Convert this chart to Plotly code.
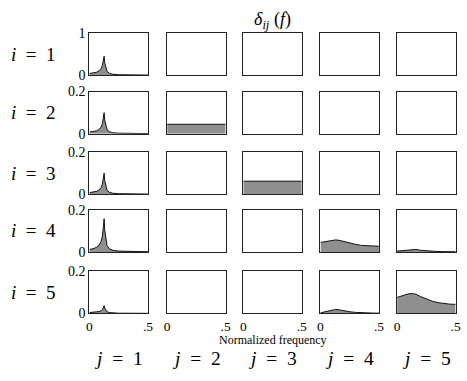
import plotly.graph_objects as go

W, H = 467, 381

# frequency grids
f_peak = [0, 0.03, 0.06, 0.08, 0.10, 0.11, 0.12, 0.125, 0.13, 0.14, 0.15, 0.17, 0.20, 0.25, 0.30, 0.40, 0.50]
f_smooth = [0, 0.05, 0.10, 0.13, 0.16, 0.20, 0.25, 0.30, 0.35, 0.40, 0.45, 0.50]
f_flat = [0, 0.5]

# curves (row i, col j)
d11 = [0.04, 0.05, 0.07, 0.10, 0.16, 0.23, 0.36, 0.45, 0.30, 0.15, 0.09, 0.045, 0.022, 0.011, 0.007, 0.004, 0.003]
d21 = [0.008, 0.010, 0.014, 0.020, 0.032, 0.048, 0.080, 0.100, 0.066, 0.033, 0.019, 0.010, 0.005, 0.003, 0.002, 0.001, 0.001]
d31 = [0.008, 0.010, 0.014, 0.020, 0.032, 0.048, 0.080, 0.100, 0.066, 0.033, 0.019, 0.010, 0.005, 0.003, 0.002, 0.001, 0.001]
d41 = [0.012, 0.015, 0.022, 0.031, 0.050, 0.075, 0.125, 0.157, 0.105, 0.052, 0.030, 0.015, 0.008, 0.004, 0.003, 0.002, 0.001]
d51 = [0.004, 0.005, 0.007, 0.009, 0.013, 0.018, 0.030, 0.037, 0.026, 0.013, 0.008, 0.004, 0.002, 0.001, 0.001, 0.0005, 0.0005]
d22 = [0.045, 0.045]
d33 = [0.062, 0.062]
d44 = [0.045, 0.050, 0.055, 0.057, 0.055, 0.049, 0.042, 0.036, 0.031, 0.029, 0.028, 0.027]
d54 = [0.003, 0.008, 0.016, 0.019, 0.017, 0.012, 0.008, 0.005, 0.003, 0.002, 0.0015, 0.0015]
d45 = [0.004, 0.007, 0.011, 0.013, 0.012, 0.008, 0.005, 0.003, 0.002, 0.0015, 0.001, 0.001]
d55 = [0.076, 0.085, 0.093, 0.094, 0.091, 0.080, 0.068, 0.058, 0.051, 0.047, 0.044, 0.043]

curves = {
    (1, 1): (f_peak, d11), (2, 1): (f_peak, d21), (3, 1): (f_peak, d31),
    (4, 1): (f_peak, d41), (5, 1): (f_peak, d51),
    (2, 2): (f_flat, d22), (3, 3): (f_flat, d33),
    (4, 4): (f_smooth, d44), (5, 4): (f_smooth, d54),
    (4, 5): (f_smooth, d45), (5, 5): (f_smooth, d55),
}

row_ymax = [1, 0.2, 0.2, 0.2, 0.2]
row_ytext = [["0", "1"], ["0", "0.2"], ["0", "0.2"], ["0", "0.2"], ["0", "0.2"]]
x_ticktext = ["0", ".5"]
row_labels = ["<i>i</i>&nbsp; = &nbsp;1", "<i>i</i>&nbsp; = &nbsp;2", "<i>i</i>&nbsp; = &nbsp;3",
              "<i>i</i>&nbsp; = &nbsp;4", "<i>i</i>&nbsp; = &nbsp;5"]
col_labels = ["<i>j</i>&nbsp; = &nbsp;1", "<i>j</i>&nbsp; = &nbsp;2", "<i>j</i>&nbsp; = &nbsp;3",
              "<i>j</i>&nbsp; = &nbsp;4", "<i>j</i>&nbsp; = &nbsp;5"]

# layout geometry (pixels)
col_left = [88, 167, 244.5, 323, 401]
box_w = 59.5
row_top = [27, 88, 151, 211, 275]
box_h = 44

FONT = "Liberation Serif, Tinos, Times New Roman, DejaVu Serif, serif"
FILL = "#8f8f8f"

fig = go.Figure()
layout = dict(
    width=W, height=H, margin=dict(l=0, r=0, t=0, b=0),
    paper_bgcolor="white", plot_bgcolor="white", showlegend=False,
    font=dict(family=FONT, color="black", size=12),
)

annotations = []
for r in range(5):
    for c in range(5):
        k = r * 5 + c + 1
        sfx = str(k) if k > 1 else ""
        xd = [col_left[c] / W, (col_left[c] + box_w) / W]
        yd = [1 - (row_top[r] + box_h) / H, 1 - row_top[r] / H]
        layout["xaxis" + sfx] = dict(
            domain=xd, range=[0, 0.5], anchor="y" + sfx,
            showline=True, mirror=True, linecolor="#222", linewidth=1.3,
            showgrid=False, zeroline=False, ticks="",
            tickvals=[0, 0.5], ticktext=x_ticktext, showticklabels=(r == 4),
            tickfont=dict(size=13.5, family=FONT, color="black"),
        )
        layout["yaxis" + sfx] = dict(
            domain=yd, range=[0, row_ymax[r]], anchor="x" + sfx,
            showline=True, mirror=True, linecolor="#222", linewidth=1.3,
            showgrid=False, zeroline=False, ticks="",
            tickvals=[0, row_ymax[r]], ticktext=row_ytext[r], showticklabels=(c == 0),
            tickfont=dict(size=14, family=FONT, color="black"),
        )
        if (r + 1, c + 1) in curves:
            fx, fy = curves[(r + 1, c + 1)]
            fig.add_trace(go.Scatter(
                x=fx, y=fy, mode="lines", fill="tozeroy", fillcolor=FILL,
                line=dict(color="#111", width=1), hoverinfo="skip",
                xaxis="x" + sfx, yaxis="y" + sfx,
            ))
        else:
            fig.add_trace(go.Scatter(
                x=[None], y=[None], mode="lines", hoverinfo="skip",
                xaxis="x" + sfx, yaxis="y" + sfx,
            ))

for r in range(5):
    yc = 1 - (row_top[r] + box_h / 2) / H
    annotations.append(dict(x=31 / W, y=yc, xref="paper", yref="paper", text=row_labels[r],
                            showarrow=False, font=dict(size=19, family=FONT), xanchor="center", yanchor="middle"))
for c in range(5):
    xc = (col_left[c] + box_w / 2) / W
    annotations.append(dict(x=xc, y=1 - 366 / H, xref="paper", yref="paper", text=col_labels[c],
                            showarrow=False, font=dict(size=19.5, family=FONT), xanchor="center", yanchor="middle"))

annotations.append(dict(x=(col_left[2] + box_w / 2) / W, y=1 - 347 / H, xref="paper", yref="paper",
                        text="Normalized frequency", showarrow=False,
                        font=dict(size=12, family=FONT), xanchor="center", yanchor="middle"))
annotations.append(dict(x=(col_left[2] + box_w / 2) / W, y=1 - 14 / H, xref="paper", yref="paper",
                        text="<i>δ<sub>ij</sub></i> (<i>f</i>)", showarrow=False,
                        font=dict(size=18, family=FONT), xanchor="center", yanchor="middle"))

layout["annotations"] = annotations
fig.update_layout(**layout)
fig.write_html("out.html")
